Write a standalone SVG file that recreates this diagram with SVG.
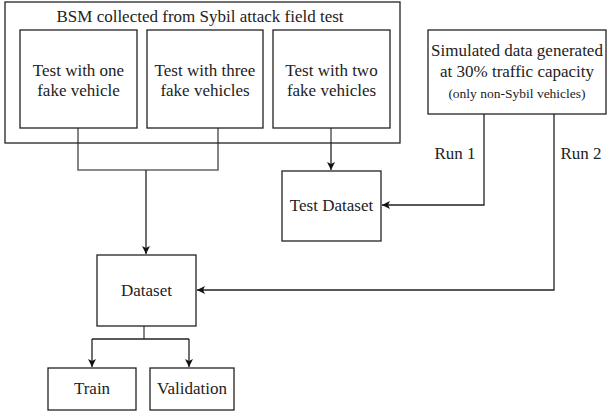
<svg xmlns="http://www.w3.org/2000/svg" width="608" height="416" viewBox="0 0 608 416">
<style>
.box{fill:#fff;stroke:#222;stroke-width:1.3}
text{font-family:'Liberation Serif','Times New Roman','DejaVu Serif',serif;font-size:17px;fill:#222;text-anchor:middle}
.s{font-size:13.5px}
.c{fill:none;stroke:#222;stroke-width:1.3}
.g{stroke:#666;stroke-width:1.6}
</style>
<defs>
<marker id="ar" markerWidth="10" markerHeight="10" refX="9" refY="5" orient="auto" markerUnits="userSpaceOnUse">
<path d="M1,1 L9,5 L1,9 L3,5 Z" fill="#111"/>
</marker>
</defs>
<rect width="608" height="416" fill="#fff"/>
<g id="connectors">
<path class="c g" d="M78,128 V170 H218 V128"/>
<path class="c" d="M146,170 V254" marker-end="url(#ar)"/>
<path class="c g" d="M331,128 V143"/>
<path class="c" d="M331,143 V170" marker-end="url(#ar)"/>
<path class="c" d="M484,114 V205 H382" marker-end="url(#ar)"/>
<path class="c" d="M554,114 V290 H197" marker-end="url(#ar)"/>
<path class="c g" d="M144,326 V339"/>
<path class="c" d="M92,339 H189"/>
<path class="c" d="M92,339 V367" marker-end="url(#ar)"/>
<path class="c" d="M189,339 V367" marker-end="url(#ar)"/>
<text font-family="Liberation Serif, serif" x="455" y="159">Run 1</text>
<text font-family="Liberation Serif, serif" x="581" y="159">Run 2</text>
</g>
<g id="bsm">
<rect class="box" x="5" y="2" width="395" height="141" style="fill:none"/>
<text x="200" y="22">BSM collected from Sybil attack field test</text>
</g>
<g id="test1">
<rect class="box" x="20" y="30" width="117" height="98"/>
<text x="78.5" y="76">Test with one</text>
<text x="78.5" y="96">fake vehicle</text>
</g>
<g id="test3">
<rect class="box" x="147" y="30" width="116" height="98"/>
<text x="205" y="76">Test with three</text>
<text x="205" y="96">fake vehicles</text>
</g>
<g id="test2">
<rect class="box" x="273" y="30" width="117" height="98"/>
<text x="331.5" y="76">Test with two</text>
<text x="331.5" y="96">fake vehicles</text>
</g>
<g id="simulated">
<rect class="box" x="428" y="30" width="178" height="84"/>
<text x="517" y="56">Simulated data generated</text>
<text x="517" y="77">at 30% traffic capacity</text>
<text class="s" x="517" y="98">(only non-Sybil vehicles)</text>
</g>
<g id="testdataset">
<rect class="box" x="282" y="171" width="99" height="70"/>
<text x="331.5" y="211">Test Dataset</text>
</g>
<g id="dataset">
<rect class="box" x="97" y="255" width="99" height="71"/>
<text x="146.5" y="296">Dataset</text>
</g>
<g id="train">
<rect class="box" x="48" y="368" width="88" height="42"/>
<text x="92" y="394">Train</text>
</g>
<g id="validation">
<rect class="box" x="150" y="368" width="84" height="42"/>
<text x="192" y="394">Validation</text>
</g>
</svg>
